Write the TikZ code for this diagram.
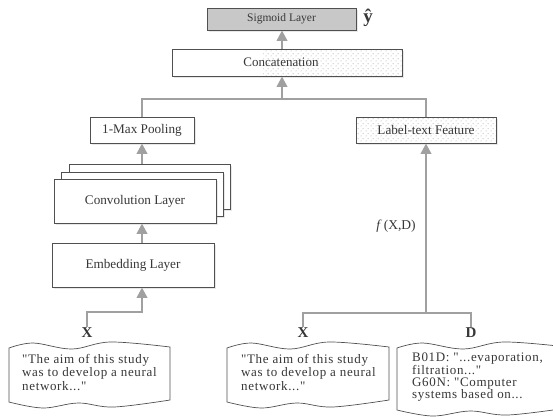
\documentclass[tikz,border=0pt]{standalone}
\usepackage{fontspec}
\setmainfont{Liberation Serif}[Ligatures=TeXOff]
\usetikzlibrary{arrows.meta,patterns,shadows,calc}
\definecolor{linegray}{RGB}{160,160,160}
\definecolor{boxedge}{RGB}{80,80,80}
\definecolor{sigfill}{RGB}{200,200,200}
\definecolor{txt}{RGB}{55,55,55}
\pgfdeclarepatternformonly{sparsedots}{\pgfpointorigin}{\pgfqpoint{5pt}{5pt}}{\pgfqpoint{5pt}{5pt}}{%
  \pgfpathcircle{\pgfqpoint{1.25pt}{1.25pt}}{0.55pt}%
  \pgfpathcircle{\pgfqpoint{3.75pt}{3.75pt}}{0.55pt}%
  \pgfusepath{fill}}
\tikzset{
  layer/.style={draw=boxedge, line width=0.9pt, fill=white, inner sep=0pt,
    text=txt, font=\fontsize{13.2}{15}\selectfont,
    drop shadow={opacity=0.18, shadow xshift=1.5pt, shadow yshift=-1.5pt}},
  dotfill/.style={pattern=sparsedots, pattern color=black!40},
  conn/.style={draw=linegray, line width=2.4pt},
  arrowc/.style={conn, -{Triangle[width=10.5pt,length=10.5pt]}, shorten >=0pt},
  doctext/.style={anchor=north west, align=left, inner sep=0pt, text=txt,
    font=\fontsize{13}{13.5}\selectfont\addfontfeature{LetterSpace=5}},
  docline/.style={draw=boxedge, line width=0.7pt, fill=white},
  varlabel/.style={font=\bfseries\fontsize{15}{15}\selectfont, inner sep=1pt}
}
\newcommand\docwave[4]{%
  \draw[docline] plot[smooth, tension=0.6] coordinates {(#1,#3+6) (#1+0.15*#2,#3+1) (#1+0.39*#2,#3+7) (#1+0.63*#2,#3) (#1+#2,#3+5)}
   -- plot[smooth, tension=0.6] coordinates {(#1+#2,#4-2) (#1+0.65*#2,#4+5) (#1+0.43*#2,#4+1) (#1+0.21*#2,#4+6) (#1,#4)} -- cycle;}
\begin{document}
\begin{tikzpicture}[x=1pt,y=-1pt]
\useasboundingbox (0,0) rectangle (553,416);
\clip (0,0) rectangle (553,416);

% top
\node[layer, fill=sigfill, minimum width=149pt, minimum height=22pt,
  font=\fontsize{11.5}{13}\selectfont] (sig) at (281.5,19) {Sigmoid Layer};
\node[font=\bfseries\fontsize{19}{19}\selectfont, text=txt] (yhat) at (368,18) {ŷ};

\node[layer, minimum width=230pt, minimum height=27pt,
  path picture={\fill[dotfill] ($(path picture bounding box.north west)+(91,0)$) rectangle (path picture bounding box.south east);}]
  (concat) at (287,62.5) {};
\node[text=txt, font=\fontsize{13}{15}\selectfont] (concattext) at (281,62.5) {Concatenation};

% middle layer
\node[layer, minimum width=104pt, minimum height=26pt] (pool) at (142,130) {1-Max Pooling};
\node[layer, minimum width=140pt, minimum height=26pt,
  path picture={\fill[dotfill] (path picture bounding box.north west) rectangle (path picture bounding box.south east);}]
  (ltf) at (426,130) {Label-text Feature};

% conv stack
\node[layer, minimum width=161pt, minimum height=45pt] (conv3) at (149.5,186.5) {};
\node[layer, minimum width=162pt, minimum height=44pt] (conv2) at (142,194) {};
\node[layer, minimum width=162pt, minimum height=44pt] (conv1) at (135,201) {Convolution Layer};

\node[layer, minimum width=162pt, minimum height=44pt] (embed) at (133,265) {Embedding Layer};

% labels
\node[varlabel, text=txt] (xl) at (87,333) {X};
\node[varlabel, text=txt] (xm) at (303,333) {X};
\node[varlabel, text=txt] (dm) at (471,333) {D};
\node[text=txt, font=\fontsize{13.5}{14}\selectfont] (flabel) at (396,226) {\textit{f}\,(X,D)};

% documents
\docwave{9}{161}{342}{402}
\docwave{227}{162}{342}{402}
\docwave{397}{170}{342}{410}
\node[doctext] (tl) at (22,354) {"The aim of this study\\was to develop a neural\\network..."};
\node[doctext] (tm) at (241,354) {"The aim of this study\\was to develop a neural\\network..."};
\node[doctext, font=\fontsize{13}{12.2}\selectfont\addfontfeature{LetterSpace=5}] (tr) at (412,353) {B01D: "...evaporation,\\filtration..."\\G60N: "Computer\\systems based on...};

% connectors
\coordinate (hbar) at (282,99);
\coordinate (xbend) at (87,312);
\coordinate (tb) at (426,313);
\draw[conn] (pool.north) -- (pool.north |- hbar) -- (ltf.north |- hbar) -- (ltf.north);
\draw[arrowc] (hbar) -- (hbar |- concat.south);
\draw[arrowc] (hbar |- concat.north) -- (hbar |- sig.south);
\draw[arrowc] (pool |- conv3.north) -- (pool.south);
\draw[arrowc] (pool |- embed.north) -- (pool |- conv1.south);
\draw[arrowc] (xl.north) -- (xl.north |- xbend) -- (pool |- xbend) -- (pool |- embed.south);
\draw[conn] (xm.north) -- (xm.north |- tb) -- (dm.north |- tb) -- (dm.north);
\draw[arrowc] (tb) -- (ltf.south);
\end{tikzpicture}
\end{document}
